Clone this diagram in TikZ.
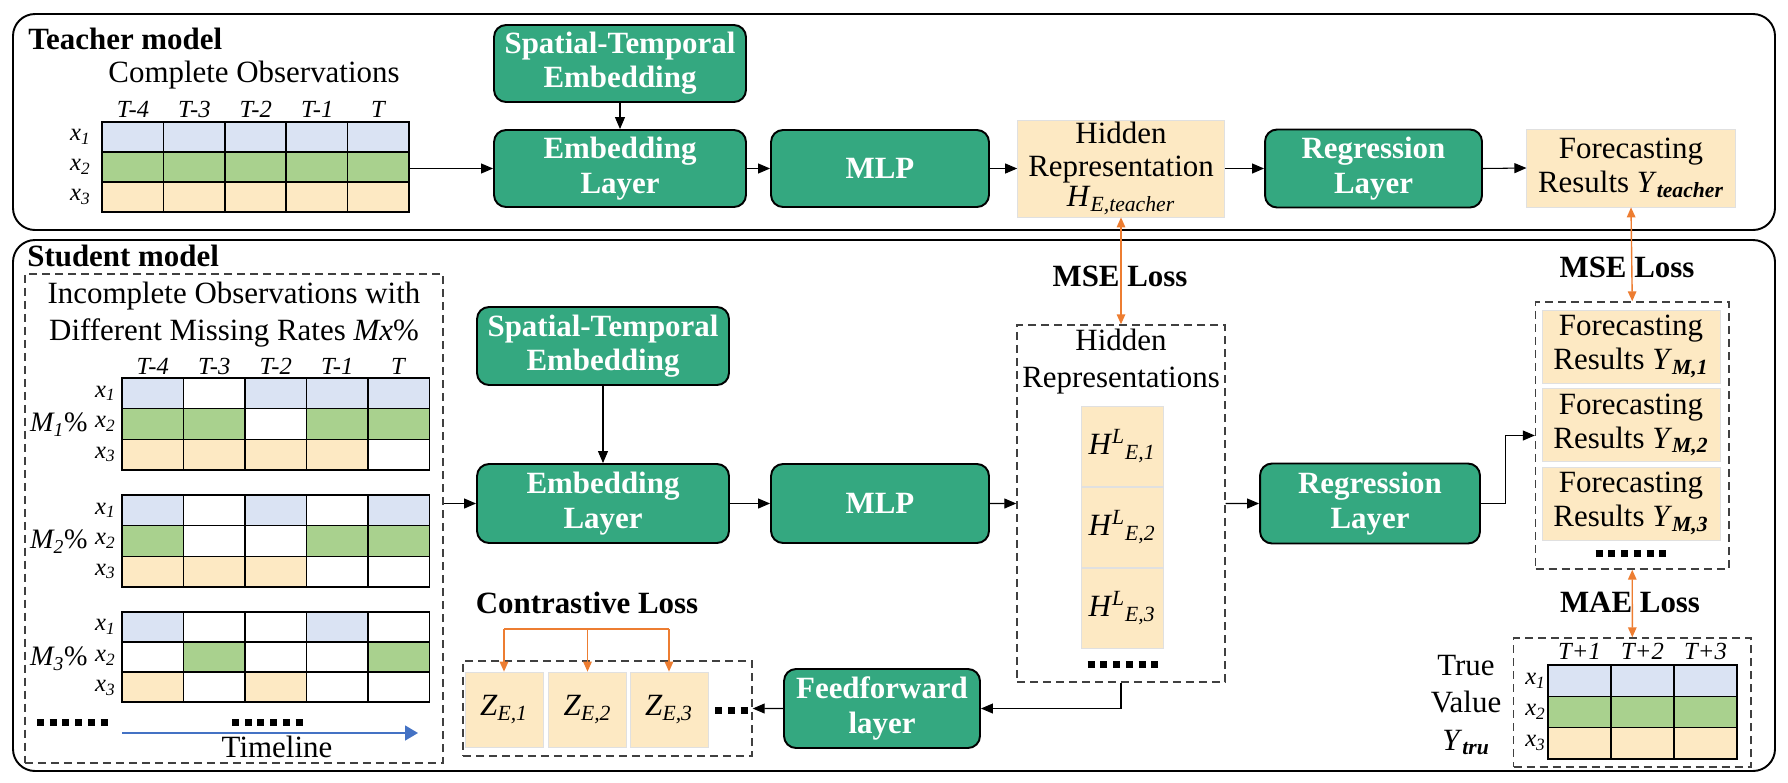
\documentclass[tikz,border=0pt]{standalone}
\usepackage{fontspec}
\setmainfont{Liberation Serif}
\usetikzlibrary{arrows.meta,fit}

\definecolor{boxgreen}{RGB}{52,168,128}
\definecolor{celblue}{RGB}{218,227,243}
\definecolor{celgreen}{RGB}{169,209,142}
\definecolor{celtan}{RGB}{253,233,195}
\definecolor{lossorange}{RGB}{237,125,49}
\definecolor{lineblue}{RGB}{68,114,196}

% one row of a table: x0, y0, cell width, cell height, colours
\newcommand{\cellrow}[5]{%
  \foreach \c [count=\i from 0] in {#5}
    \draw[cell, fill=\c] ({#1+#3*\i},#2) rectangle ++(#3,#4);}

\begin{document}
\begin{tikzpicture}[x=0.02cm, y=-0.02cm,
    font=\fontsize{17.6}{20}\selectfont,
    frame/.style={draw, line width=1.1pt, rounded corners=0.44cm},
    green box/.style={draw, line width=1.1pt, rounded corners=0.24cm, fill=boxgreen,
      text=white, align=center, inner sep=1pt,
      font=\fontsize{17.6}{19.5}\selectfont\bfseries},
    tan box/.style={draw=black!12, fill=celtan, align=center, inner sep=1pt,
      font=\fontsize{17.6}{19.5}\selectfont},
    group/.style={draw=black!75, line width=0.8pt, dash pattern=on 0.16cm off 0.1cm, inner sep=0pt},
    cell/.style={draw, line width=0.85pt},
    link/.style={-{Triangle[length=0.24cm,width=0.2cm]}, line width=0.6pt},
    loss/.style={{Triangle[length=0.2cm,width=0.17cm]}-{Triangle[length=0.2cm,width=0.17cm]},
      draw=lossorange, line width=0.8pt},
    pull/.style={-{Triangle[length=0.2cm,width=0.17cm]}, draw=lossorange, line width=0.8pt},
    dots/.style={line width=0.14cm, dash pattern=on 0.14cm off 0.115cm},
    title/.style={font=\fontsize{17.6}{20}\selectfont\bfseries, inner sep=0pt},
    lbl/.style={inner sep=0pt},
    tablbl/.style={inner sep=0pt, font=\fontsize{14}{16}\selectfont},
    ratelbl/.style={inner sep=0pt, font=\fontsize{16}{18}\selectfont}]

  \useasboundingbox (0,0) rectangle (1788,782);

  % teacher model
  \draw[frame] (13,14) rectangle (1775,230);
  \node[title, anchor=base west] (tname) at (28,49) {Teacher model};
  \node[lbl, anchor=base] (tobsname) at (254,82) {Complete Observations};

  \cellrow{102}{122}{61.4}{30}{celblue,celblue,celblue,celblue,celblue}
  \cellrow{102}{152}{61.4}{30}{celgreen,celgreen,celgreen,celgreen,celgreen}
  \cellrow{102}{182}{61.4}{30}{celtan,celtan,celtan,celtan,celtan}
  \node[fit={(102,122) (409,212)}, inner sep=0pt] (tobs) {};
  \foreach \t [count=\i from 0] in {T-4,T-3,T-2,T-1,T}
    \node[tablbl, anchor=base] (tc\i) at ({133+61.4*\i},117) {\textit{\t}};
  \foreach \r in {1,2,3}
    \node[tablbl, anchor=east] (tx\r) at (91,{107+30*\r}) {\textit{x\textsubscript{\r}}};

  \node[green box, minimum width=5.04cm, minimum height=1.54cm] (tste) at (620,63.5) {Spatial-Temporal\\Embedding};
  \node[green box, minimum width=5.04cm, minimum height=1.54cm] (temb) at (620,168.5) {Embedding\\Layer};
  \node[green box, minimum width=4.36cm, minimum height=1.54cm] (tmlp) at (880,168.5) {MLP};
  \node[tan box, minimum width=4.14cm, minimum height=1.94cm] (thid) at (1121,168.5)
    {Hidden\\[-1pt]Representation\\[-2pt]\textit{H}\textsubscript{\textit{E,teacher}}};
  \node[green box, minimum width=4.34cm, minimum height=1.56cm] (treg) at (1373.5,168.5) {Regression\\Layer};
  \node[tan box, minimum width=4.17cm, minimum height=1.56cm] (tres) at (1631,168)
    {Forecasting\\Results \textit{Y}\textsubscript{\textbf{\textit{teacher}}}};

  \draw[link] (tobs.east |- temb.west) -- (temb.west);
  \draw[link] (tste.south) -- (temb.north);
  \draw[link] (temb.east) -- (tmlp.west);
  \draw[link] (tmlp.east) -- (thid.west);
  \draw[link] (thid.east) -- (treg.west);
  \draw[link] (treg.east) -- (tres.west);

  % student model
  \draw[frame] (13,240) rectangle (1775,771);
  \node[title, anchor=base west] (sname) at (27,266) {Student model};
  \node[group, fit={(25,274) (443,763)}] (obs) {};
  \node[lbl, anchor=base] (obsl1) at (234,303) {Incomplete Observations with};
  \node[lbl, anchor=base] (obsl2) at (234,340) {Different Missing Rates \textit{Mx}\%};

  % M1
  \cellrow{122}{378}{61.5}{30.7}{celblue,white,celblue,celblue,celblue}
  \cellrow{122}{408.7}{61.5}{30.7}{celgreen,celgreen,white,celgreen,celgreen}
  \cellrow{122}{439.4}{61.5}{30.7}{celtan,celtan,celtan,celtan,white}
  % M2
  \cellrow{122}{495}{61.5}{30.7}{celblue,white,celblue,white,celblue}
  \cellrow{122}{525.7}{61.5}{30.7}{celgreen,white,white,celgreen,celgreen}
  \cellrow{122}{556.4}{61.5}{30.7}{celtan,celtan,celtan,white,white}
  % M3
  \cellrow{122}{612}{61.5}{30}{celblue,white,white,celblue,white}
  \cellrow{122}{642}{61.5}{30}{white,celgreen,white,white,celgreen}
  \cellrow{122}{672}{61.5}{30}{celtan,white,celtan,white,white}

  \foreach \t [count=\i from 0] in {T-4,T-3,T-2,T-1,T}
    \node[tablbl, anchor=base] (sc\i) at ({152.75+61.5*\i},374) {\textit{\t}};
  \foreach \m/\y in {1/393.35, 2/510.35, 3/627} {
    \foreach \r in {1,2,3}
      \node[tablbl, anchor=east] (row\m\r) at (116,{\y+30.5*(\r-1)}) {\textit{x\textsubscript{\r}}};
    \node[ratelbl, anchor=east] (rate\m) at (88,{\y+31.5}) {\textit{M\textsubscript{\m}}\%};
  }

  \draw[dots] (37,722) -- (107.75,722);
  \draw[dots] (232,722) -- (302.75,722);
  \coordinate (tl0) at (122,733);
  \coordinate (tl1) at (418,733);
  \draw[lineblue, line width=0.9pt, -{Triangle[length=0.26cm,width=0.3cm]}] (tl0) -- (tl1);
  \node[lbl, anchor=base] (tlname) at (277,757) {Timeline};

  \node[green box, minimum width=5.04cm, minimum height=1.56cm] (sste) at (603,346) {Spatial-Temporal\\Embedding};
  \node[green box, minimum width=5.04cm, minimum height=1.58cm] (semb) at (603,503.5) {Embedding\\Layer};
  \node[green box, minimum width=4.36cm, minimum height=1.58cm] (smlp) at (880,503.5) {MLP};

  \node[group, fit={(1017,325) (1225,682)}] (shid) {};
  \node[lbl, anchor=base] (shidl1) at (1121,350) {Hidden};
  \node[lbl, anchor=base] (shidl2) at (1121,387) {Representations};
  \node[tan box, minimum width=1.64cm, minimum height=1.6cm] (h1) at (1122,446)
    {\textit{H}\textsuperscript{\textit{L}}\textsubscript{\textit{E,1}}};
  \node[tan box, minimum width=1.64cm, minimum height=1.6cm] (h2) at (1122,527)
    {\textit{H}\textsuperscript{\textit{L}}\textsubscript{\textit{E,2}}};
  \node[tan box, minimum width=1.64cm, minimum height=1.6cm] (h3) at (1122,608)
    {\textit{H}\textsuperscript{\textit{L}}\textsubscript{\textit{E,3}}};
  \draw[dots] (1087.6,664) -- (1158.35,664);

  \node[green box, minimum width=4.4cm, minimum height=1.6cm] (sreg) at (1370,503.5) {Regression\\Layer};

  \node[group, fit={(1535.5,302) (1729,569)}] (fgrp) {};
  \node[tan box, minimum width=3.56cm, minimum height=1.46cm] (f1) at (1631,346.5)
    {Forecasting\\Results \textit{Y}\textsubscript{\textbf{\textit{M,1}}}};
  \node[tan box, minimum width=3.56cm, minimum height=1.46cm] (f2) at (1631,425)
    {Forecasting\\Results \textit{Y}\textsubscript{\textbf{\textit{M,2}}}};
  \node[tan box, minimum width=3.56cm, minimum height=1.46cm] (f3) at (1631,503.5)
    {Forecasting\\Results \textit{Y}\textsubscript{\textbf{\textit{M,3}}}};
  \draw[dots] (1595.6,553) -- (1666.35,553);

  \node[group, fit={(1513.6,638) (1751,767)}] (tv) {};
  \cellrow{1548}{665}{63}{31.3}{celblue,celblue,celblue}
  \cellrow{1548}{696.3}{63}{31.3}{celgreen,celgreen,celgreen}
  \cellrow{1548}{727.6}{63}{31.3}{celtan,celtan,celtan}
  \foreach \t [count=\i from 0] in {T+1,T+2,T+3}
    \node[tablbl, anchor=base] (vc\i) at ({1579.5+63*\i},659) {\textit{\t}};
  \foreach \r in {1,2,3}
    \node[tablbl, anchor=east] (vx\r) at (1546,{649.35+31.3*\r}) {\textit{x\textsubscript{\r}}};
  \node[lbl, anchor=base] (tvl1) at (1466,675) {True};
  \node[lbl, anchor=base] (tvl2) at (1466,712) {Value};
  \node[lbl, anchor=base] (tvl3) at (1466,750) {\textit{Y}\textsubscript{\textbf{\textit{tru}}}};

  \node[green box, minimum width=3.92cm, minimum height=1.58cm] (ffw) at (882,708.5) {Feedforward\\layer};
  \node[group, fit={(463,661) (752,756)}] (zgrp) {};
  \node[tan box, minimum width=1.56cm, minimum height=1.5cm] (z1) at (504,709.5)
    {\textit{Z}\textsubscript{\textit{E,1}}};
  \node[tan box, minimum width=1.56cm, minimum height=1.5cm] (z2) at (587.5,709.5)
    {\textit{Z}\textsubscript{\textit{E,2}}};
  \node[tan box, minimum width=1.56cm, minimum height=1.5cm] (z3) at (669,709.5)
    {\textit{Z}\textsubscript{\textit{E,3}}};
  \draw[dots] (715,710) -- (747.5,710);

  \draw[link] (sste.south) -- (semb.north);
  \draw[link] (obs.east |- semb.west) -- (semb.west);
  \draw[link] (semb.east) -- (smlp.west);
  \draw[link] (smlp.east) -- (shid.west);
  \draw[link] (shid.east) -- (sreg.west);
  \draw[link] (sreg.east) -- ++(25,0) |- (fgrp.west);
  \draw[link] (shid.south) |- (ffw.east);
  \draw[link] (ffw.west) -- (zgrp.east);

  % losses
  \draw[loss] (thid.south) -- (shid.north);
  \draw[loss] (tres.south) -- (fgrp.north);
  \draw[loss] (fgrp.south) -- (tv.north);
  \node[title, anchor=base] (mse1) at (1120,286) {MSE Loss};
  \node[title, anchor=base] (mse2) at (1627,277) {MSE Loss};
  \node[title, anchor=base] (mae) at (1630,612) {MAE Loss};

  \node[title, anchor=base] (closs) at (587,613) {Contrastive Loss};
  \coordinate (cbar) at (587,629);
  \draw[draw=lossorange, line width=0.8pt] (z1.north |- cbar) -- (z3.north |- cbar);
  \foreach \z in {z1,z2,z3}
    \draw[pull] (\z.north |- cbar) -- (\z.north);
\end{tikzpicture}
\end{document}
